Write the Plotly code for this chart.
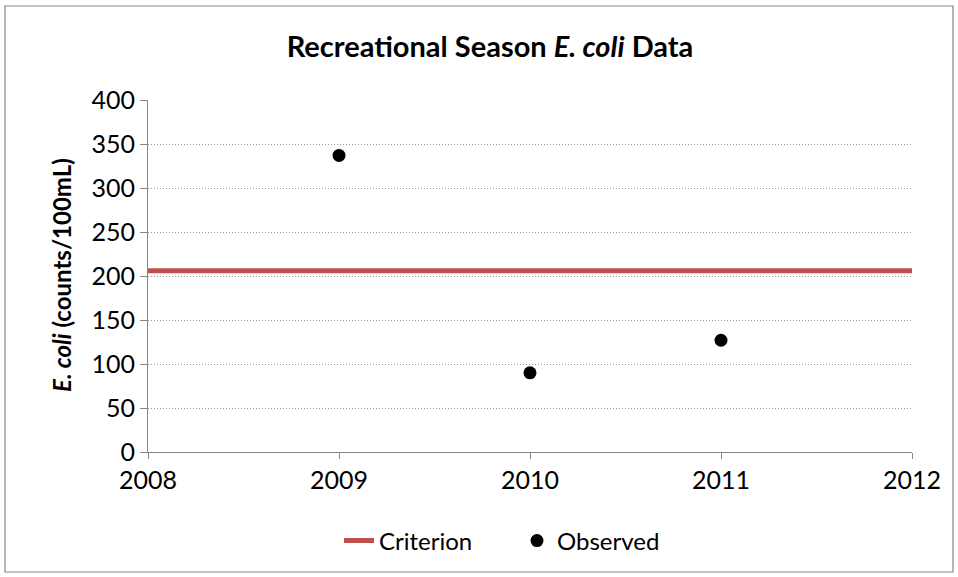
import plotly.graph_objects as go

years = [2009, 2010, 2011]
observed = [337, 90, 127]
criterion_x = [2008, 2012]
criterion_y = [206, 206]
x_ticks = [2008, 2009, 2010, 2011, 2012]
y_ticks = [0, 50, 100, 150, 200, 250, 300, 350, 400]

FONT = "Lato, 'Open Sans', sans-serif"
fig = go.Figure()
fig.add_trace(go.Scatter(x=criterion_x, y=criterion_y, mode="lines", name="Criterion",
                         line=dict(color="#C0504D", width=5)))
fig.add_trace(go.Scatter(x=years, y=observed, mode="markers", name="Observed",
                         marker=dict(color="black", size=13)))

W, H = 958, 577
l, r, t, b = 148, 46, 100, 125
pw, ph = W - l - r, H - t - b

def px(xp):
    return (xp - l) / pw

def py(yp):
    return (H - b - yp) / ph

fig.add_shape(type="rect", xref="paper", yref="paper",
              x0=px(5), x1=px(953), y0=py(572), y1=py(6),
              line=dict(color="#868686", width=1.2), fillcolor="rgba(0,0,0,0)", layer="below")

fig.add_annotation(text="<b><i>E. coli</i> (counts/100mL)</b>", xref="paper", yref="paper",
                   x=px(61), y=py(275), xanchor="center", yanchor="middle", textangle=-90,
                   showarrow=False, font=dict(size=24, family=FONT, color="black"))

fig.update_layout(
    width=W, height=H,
    margin=dict(l=l, r=r, t=t, b=b),
    paper_bgcolor="white", plot_bgcolor="white",
    font=dict(family=FONT, size=25, color="black"),
    title=dict(text="<b>Recreational Season <i>E. coli</i> Data</b>", x=490 / W, xanchor="center",
               xref="container",
               y=1 - 47 / H, yanchor="middle", font=dict(size=29, family=FONT)),
    showlegend=True,
    legend=dict(orientation="h", x=px(339), xanchor="left", y=py(541), yanchor="middle",
                font=dict(size=24), entrywidth=133, entrywidthmode="pixels", tracegroupgap=0),
    xaxis=dict(range=[2008, 2012], tickvals=x_ticks, ticktext=[str(v) for v in x_ticks],
               showgrid=False, zeroline=False, showline=True, linecolor="#868686", linewidth=1.2,
               ticks="outside", ticklen=6, tickcolor="#868686", tickfont=dict(size=25)),
    yaxis=dict(range=[0, 400], tickvals=y_ticks, showgrid=True, gridcolor="#9A9A9A",
               griddash="1px,2px", gridwidth=1, zeroline=False, showline=True, linecolor="#868686",
               linewidth=1.2, ticks="outside", ticklen=7, tickcolor="#868686",
               tickfont=dict(size=25)),
)
fig.write_html("out.html", config={"displayModeBar": False},
               post_script="document.body.style.margin='0px';")
